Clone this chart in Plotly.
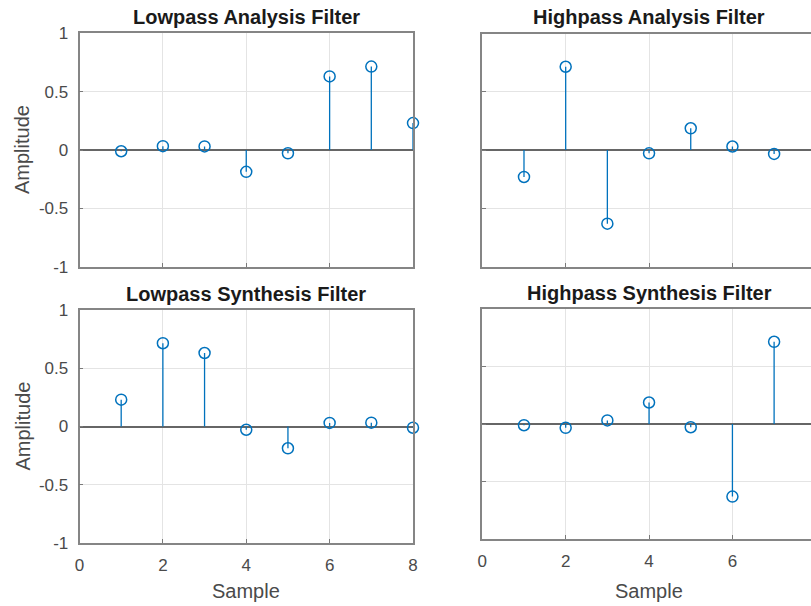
import plotly.graph_objects as go

# db4 wavelet filter coefficients
samples = [1, 2, 3, 4, 5, 6, 7, 8]
lo_d = [-0.010597401785069, 0.032883011666983, 0.030841381835987, -0.187034811718881,
        -0.027983769416984, 0.630880767929590, 0.714846570552542, 0.230377813308855]
hi_d = [-0.230377813308855, 0.714846570552542, -0.630880767929590, -0.027983769416984,
        0.187034811718881, 0.030841381835987, -0.032883011666983, -0.010597401785069]
lo_r = [0.230377813308855, 0.714846570552542, 0.630880767929590, -0.027983769416984,
        -0.187034811718881, 0.030841381835987, 0.032883011666983, -0.010597401785069]
hi_r = [-0.010597401785069, -0.032883011666983, 0.030841381835987, 0.187034811718881,
        -0.027983769416984, -0.630880767929590, 0.714846570552542, -0.230377813308855]

titles = ["Lowpass Analysis Filter", "Highpass Analysis Filter",
          "Lowpass Synthesis Filter", "Highpass Synthesis Filter"]
x_ticks = [0, 2, 4, 6, 8]
y_ticks = [-1, -0.5, 0, 0.5, 1]
y_tick_text = ["-1", "-0.5", "0", "0.5", "1"]

W, H = 811, 606
BLUE = "#0072BD"
FONT = "Liberation Sans, Arial, Helvetica, sans-serif"
TICK_COLOR = "#4a4a4a"
PX_PER_UNIT = (413 - 79.5) / 8.0

# panel boxes in pixels: (left, right, top, bottom)
panels = [
    (79.5, 413.0, 33.3, 266.7),
    (482.3, 811.0, 33.5, 266.7),
    (79.5, 413.0, 310.0, 543.0),
    (482.3, 811.0, 309.0, 539.0),
]
series = [lo_d, hi_d, lo_r, hi_r]

fig = go.Figure()

for i, ((l, r, t, b), vals) in enumerate(zip(panels, series)):
    n = i + 1
    xa = "x" if n == 1 else f"x{n}"
    ya = "y" if n == 1 else f"y{n}"

    # stems
    sx, sy = [], []
    for s, v in zip(samples, vals):
        sx += [s, s, None]
        sy += [0, v, None]
    fig.add_trace(go.Scatter(x=sx, y=sy, mode="lines", xaxis=xa, yaxis=ya,
                             line=dict(color=BLUE, width=1.3), hoverinfo="skip",
                             showlegend=False, cliponaxis=False))
    # open circle heads
    fig.add_trace(go.Scatter(x=samples, y=vals, mode="markers", xaxis=xa, yaxis=ya,
                             marker=dict(symbol="circle-open", size=11,
                                         line=dict(color=BLUE, width=1.5), color=BLUE),
                             showlegend=False, cliponaxis=False))

    right_col = n in (2, 4)
    bottom_row = n in (3, 4)
    x_end = 8.0 if not right_col else (r - l) / PX_PER_UNIT

    xkey = "xaxis" if n == 1 else f"xaxis{n}"
    ykey = "yaxis" if n == 1 else f"yaxis{n}"
    fig.layout[xkey] = dict(
        domain=[l / W, r / W], range=[0, x_end], anchor=ya, automargin=False,
        tickvals=x_ticks, ticktext=[str(v) for v in x_ticks],
        showticklabels=bottom_row, ticks="inside", ticklen=4,
        tickcolor="#7a7a7a", tickwidth=1,
        showgrid=True, gridcolor="#e4e4e4", gridwidth=1,
        showline=True, linecolor="#858585", linewidth=1.7, mirror=True,
        zeroline=False, ticklabelstandoff=6,
        tickfont=dict(family=FONT, size=17, color=TICK_COLOR),
    )
    fig.layout[ykey] = dict(
        domain=[1 - b / H, 1 - t / H], range=[-1, 1], anchor=xa, automargin=False,
        tickvals=y_ticks, ticktext=y_tick_text,
        showticklabels=not right_col, ticks="inside", ticklen=4,
        tickcolor="#7a7a7a", tickwidth=1,
        showgrid=True, gridcolor="#e4e4e4", gridwidth=1,
        showline=True, linecolor="#858585", linewidth=1.7,
        mirror=not right_col,
        zeroline=True, zerolinecolor="#666666", zerolinewidth=1.5,
        ticklabelstandoff=6,
        tickfont=dict(family=FONT, size=17, color=TICK_COLOR),
    )

    # panel title, centred over the full axes width
    full_right = l + 8 * PX_PER_UNIT
    cx = (l + full_right) / 2
    fig.add_annotation(text=f"<b>{titles[i]}</b>", x=cx / W, y=1 - (t - 16) / H,
                       xref="paper", yref="paper", xanchor="center", yanchor="middle",
                       showarrow=False,
                       font=dict(family=FONT, size=20, color="#1a1a1a"))

    if not right_col:
        fig.add_annotation(text="Amplitude", x=22 / W, y=1 - ((t + b) / 2) / H,
                           xref="paper", yref="paper", xanchor="center",
                           yanchor="middle", textangle=-90, showarrow=False,
                           font=dict(family=FONT, size=20, color=TICK_COLOR))
    if bottom_row:
        fig.add_annotation(text="Sample", x=cx / W, y=1 - 591 / H,
                           xref="paper", yref="paper", xanchor="center",
                           yanchor="middle", showarrow=False,
                           font=dict(family=FONT, size=20, color=TICK_COLOR))

fig.update_layout(
    template="none",
    width=W, height=H,
    margin=dict(l=0, r=0, t=0, b=0, pad=0),
    paper_bgcolor="white", plot_bgcolor="white",
    showlegend=False,
)

fig.write_html(
    "out.html",
    post_script="document.body.style.margin='0';document.body.style.overflow='hidden';",
)
